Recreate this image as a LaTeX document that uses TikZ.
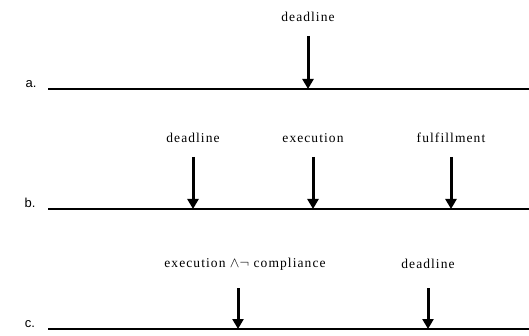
\documentclass[tikz,border=0pt]{standalone}
\usepackage{fontspec}
\setmainfont{Liberation Serif}
\newfontfamily\zeilenfont{Liberation Sans}
\usetikzlibrary{arrows.meta}
\tikzset{
  zeitachse/.style={line width=1.3pt},
  ereignis/.style={line width=3pt,-{Triangle[width=11pt,length=10pt]}},
  marke/.style={font=\fontsize{13.5}{15}\selectfont\addfontfeature{LetterSpace=8},inner sep=1pt},
  zeile/.style={font=\fontsize{13}{15}\selectfont\zeilenfont,inner sep=0pt}
}

\begin{document}
\begin{tikzpicture}[x=1pt,y=-1pt]
  \useasboundingbox (0,0) rectangle (529,336);
  % a.
  \node[zeile] (za) at (31,84) {a.};
  \coordinate (aL) at (48,89);
  \coordinate (aR) at (529,89);
  \draw[zeitachse] (aL) -- (aR);
  \node[marke] (a1) at (308,17) {deadline};
  \coordinate (a1o) at (308,36);
  \coordinate (a1u) at (308,89);
  \draw[ereignis] (a1o) -- (a1u);
  % b.
  \node[zeile] (zb) at (30,203) {b.};
  \coordinate (bL) at (48,209);
  \coordinate (bR) at (529,209);
  \draw[zeitachse] (bL) -- (bR);
  \node[marke] (b1) at (193,138) {deadline};
  \node[marke] (b2) at (313,138) {execution};
  \node[marke] (b3) at (451,138) {fulfillment};
  \coordinate (b1o) at (193,157);
  \coordinate (b1u) at (193,209);
  \coordinate (b2o) at (313,157);
  \coordinate (b2u) at (313,209);
  \coordinate (b3o) at (451,157);
  \coordinate (b3u) at (451,209);
  \draw[ereignis] (b1o) -- (b1u);
  \draw[ereignis] (b2o) -- (b2u);
  \draw[ereignis] (b3o) -- (b3u);
  % c.
  \node[zeile] (zc) at (30,324) {c.};
  \coordinate (cL) at (48,329);
  \coordinate (cR) at (529,329);
  \draw[zeitachse] (cL) -- (cR);
  \node[marke] (c1) at (245,264) {execution $\wedge\neg$ compliance};
  \node[marke] (c2) at (428,264) {deadline};
  \coordinate (c1o) at (238,288);
  \coordinate (c1u) at (238,329);
  \coordinate (c2o) at (428,288);
  \coordinate (c2u) at (428,329);
  \draw[ereignis] (c1o) -- (c1u);
  \draw[ereignis] (c2o) -- (c2u);
\end{tikzpicture}
\end{document}
